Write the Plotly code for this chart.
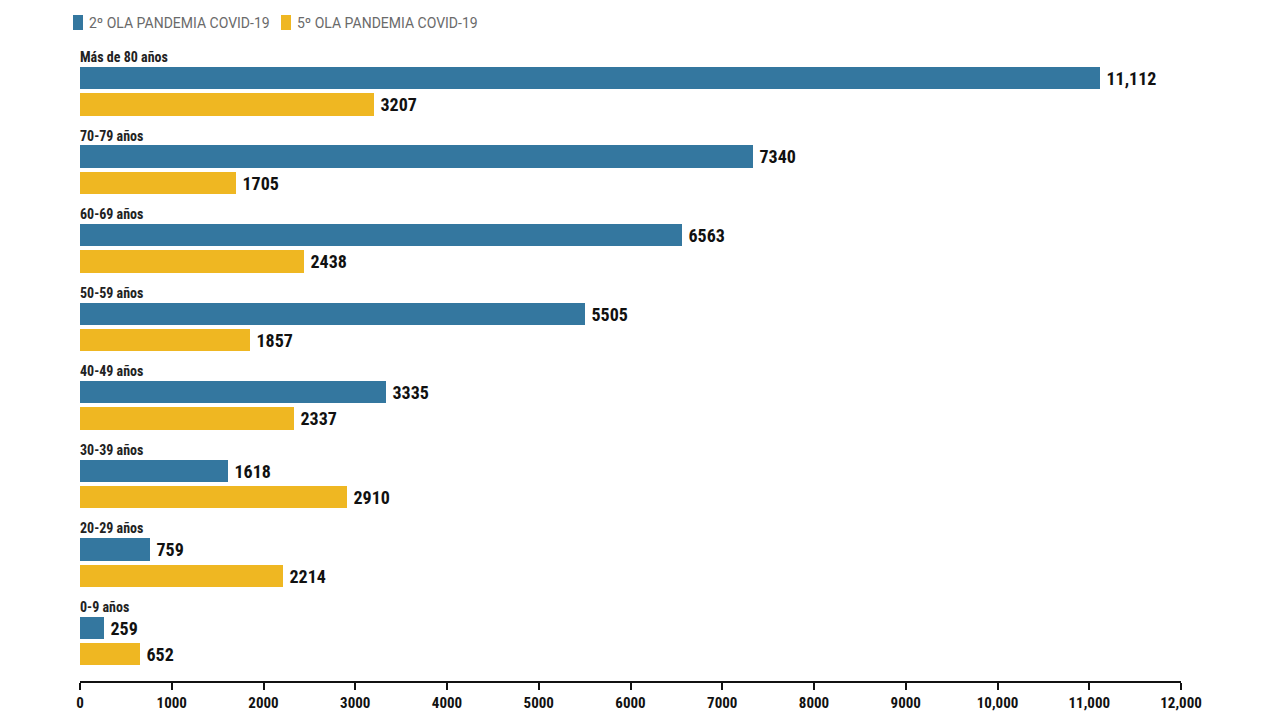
import plotly.graph_objects as go

categories = ["Más de 80 años", "70-79 años", "60-69 años", "50-59 años",
              "40-49 años", "30-39 años", "20-29 años", "0-9 años"]
ola2 = [11112, 7340, 6563, 5505, 3335, 1618, 759, 259]
ola5 = [3207, 1705, 2438, 1857, 2337, 2910, 2214, 652]
series_names = ["2º OLA PANDEMIA COVID-19", "5º OLA PANDEMIA COVID-19"]
tick_values = [0, 1000, 2000, 3000, 4000, 5000, 6000, 7000, 8000, 9000, 10000, 11000, 12000]
tick_labels = ["0", "1000", "2000", "3000", "4000", "5000", "6000", "7000", "8000", "9000",
               "10,000", "11,000", "12,000"]

BLUE = "#34779f"
YELLOW = "#efb722"
COLORS = [BLUE, YELLOW]
FONT = "Roboto Condensed, Liberation Sans Narrow, Roboto, Arial"

W, H = 1280, 720
ML, MR, MT, MB = 80, 99, 40, 39
PW, PH = W - ML - MR, H - MT - MB

def fmt(v):
    s = f"{v:,}" if v >= 10000 else str(v)
    return "\u2009" + s

pos_blue = [i for i in range(len(categories))]
pos_yellow = [i + 0.335 for i in range(len(categories))]

fig = go.Figure()
for vals, pos, name, col in [(ola2, pos_blue, series_names[0], BLUE),
                             (ola5, pos_yellow, series_names[1], YELLOW)]:
    fig.add_trace(go.Bar(
        y=pos, x=vals, orientation="h", name=name,
        marker=dict(color=col, line=dict(width=0)), width=0.285,
        text=[fmt(v) for v in vals], textposition="outside", cliponaxis=False,
        textfont=dict(family=FONT, size=18, color="#111", weight="bold"),
        showlegend=False,
    ))

for i, c in enumerate(categories):
    fig.add_annotation(x=0, y=i - 0.267, xref="x", yref="y", text=c, showarrow=False,
                       xanchor="left", yanchor="middle", xshift=-2,
                       font=dict(family=FONT, size=14, color="#222", weight="bold"))

# custom legend (swatch + label) above the plot
def px_to_paper_x(px):
    return (px - ML) / PW

def px_to_paper_y(py):
    return (H - MB - py) / PH

legend_x = [73, 281]
for name, col, lx in zip(series_names, COLORS, legend_x):
    fig.add_shape(type="rect", xref="paper", yref="paper",
                  x0=px_to_paper_x(lx), x1=px_to_paper_x(lx + 10),
                  y0=px_to_paper_y(30), y1=px_to_paper_y(15),
                  fillcolor=col, line=dict(width=0), layer="above")
    fig.add_annotation(xref="paper", yref="paper", x=px_to_paper_x(lx + 14),
                       y=px_to_paper_y(23), text=name, showarrow=False,
                       xanchor="left", yanchor="middle",
                       font=dict(family="Roboto, Arial", size=14, color="#6a6a6a"))

fig.update_layout(
    width=W, height=H,
    margin=dict(l=ML, r=MR, t=MT, b=MB, autoexpand=False),
    plot_bgcolor="white", paper_bgcolor="white",
    barmode="overlay", bargap=0,
    showlegend=False,
    xaxis=dict(range=[0, 12000], tickvals=tick_values, ticktext=tick_labels,
               showgrid=False, zeroline=False, showline=True, linecolor="#111", linewidth=2,
               ticks="outside", ticklen=7, tickwidth=2, tickcolor="#111",
               tickfont=dict(family=FONT, size=15, color="#111", weight="bold"), fixedrange=True),
    yaxis=dict(range=[7.675, -0.484], showticklabels=False, showgrid=False,
               zeroline=False, showline=False, fixedrange=True),
)

fig.write_html("out.html")
